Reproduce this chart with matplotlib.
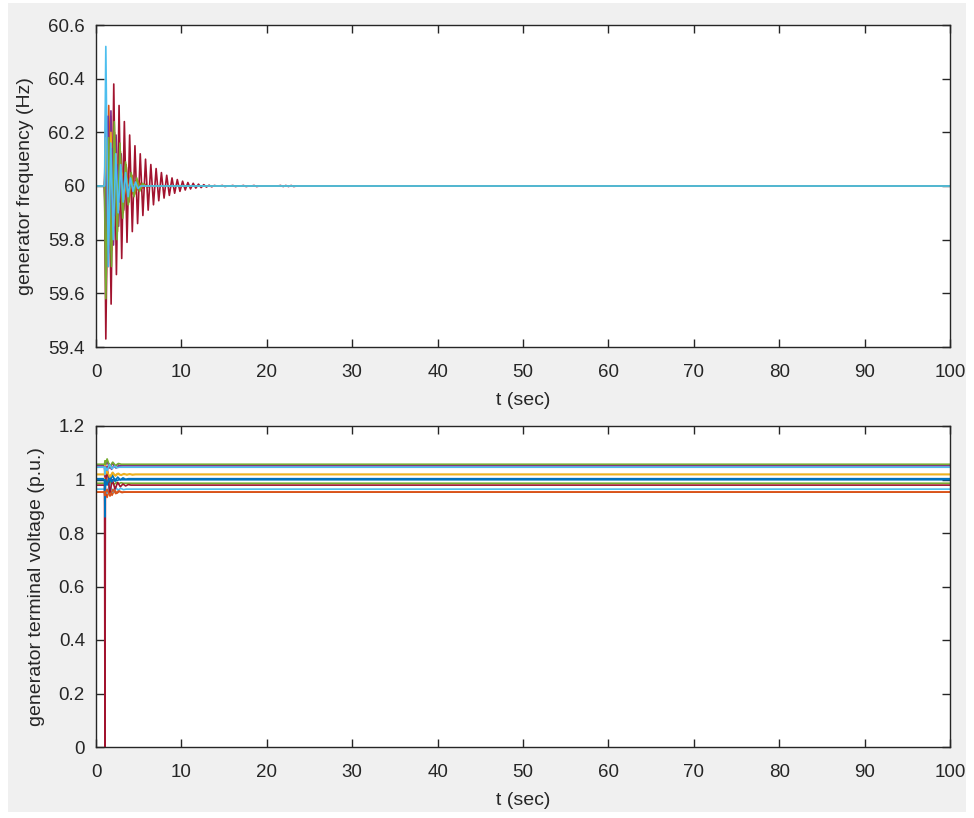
import numpy as np
import matplotlib.pyplot as plt
from matplotlib.patches import Rectangle

plt.rcParams['font.family'] = ['Liberation Sans', 'DejaVu Sans']

# MATLAB default colour order, cycled over the generators
colors = ['#0072BD', '#D95319', '#EDB120', '#7E2F8E', '#77AC30', '#4DBEEE', '#A2142F']

t_end = 100.0
t_fault = 1.0
t_first = 1.15
# time between successive swing extremes for each generator (s)
half_period = [0.31, 0.29, 0.33, 0.30, 0.27, 0.32, 0.31, 0.28, 0.34, 0.30, 0.26, 0.33, 0.29]

# frequency deviation extremes (Hz) for each generator
freq_dev = [
    [0.10, -0.18, 0.14, -0.12, 0.09, -0.07, 0.05, -0.04, 0.03, -0.02, 0.015, -0.01, 0.006, -0.004],
    [0.22, -0.30, 0.26, -0.21, 0.18, -0.14, 0.11, -0.09, 0.07, -0.05, 0.04, -0.03, 0.02, -0.015,
     0.01, -0.008, 0.006, -0.004],
    [-0.15, 0.24, -0.20, 0.16, -0.12, 0.10, -0.07, 0.05, -0.04, 0.03, -0.02, 0.01, -0.008],
    [0.30, -0.25, 0.28, -0.22, 0.19, -0.15, 0.12, -0.09, 0.07, -0.05, 0.04, -0.03, 0.02, -0.012],
    [-0.12, 0.16, -0.14, 0.12, -0.09, 0.08, -0.06, 0.05, -0.03, 0.02, -0.015, 0.01],
    [-0.35, 0.20, -0.22, 0.15, -0.12, 0.09, -0.07, 0.05, -0.04, 0.03, -0.02, 0.01],
    [-0.57, 0.22, -0.44, 0.38, -0.33, 0.30, -0.27, 0.24, -0.21, 0.19, -0.17, 0.15, -0.14, 0.12,
     -0.11, 0.10, -0.09, 0.08, -0.07, 0.065, -0.055, 0.05, -0.045, 0.04, -0.035, 0.03, -0.027,
     0.024, -0.02, 0.018, -0.015, 0.013, -0.011, 0.01, -0.008, 0.007, -0.006, 0.005, -0.004,
     0.003, -0.003, 0.002, 0, 0, 0.002, -0.002, 0, 0, 0.002, -0.002, 0, 0, 0.002, -0.002,
     0, 0, 0.002, -0.002, 0, 0, 0, 0, 0, 0, 0, 0, 0.002, -0.002, 0.002, -0.002, 0.002, -0.002],
    [0.12, -0.20, 0.10, -0.14, 0.08, -0.09, 0.05, -0.05, 0.03, -0.02, 0.01],
    [-0.25, 0.30, -0.24, 0.20, -0.17, 0.13, -0.10, 0.08, -0.06, 0.04, -0.03, 0.02, -0.01, 0.006],
    [0.18, -0.22, 0.20, -0.15, 0.12, -0.09, 0.07, -0.05, 0.03, -0.02, 0.01],
    [-0.20, 0.26, -0.18, 0.14, -0.11, 0.08, -0.06, 0.04, -0.03, 0.02, -0.01],
    [-0.42, 0.18, -0.30, 0.24, -0.20, 0.16, -0.12, 0.09, -0.07, 0.05, -0.04, 0.03, -0.02, 0.01],
    [0.52, -0.30, 0.16, -0.20, 0.12, -0.10, 0.08, -0.06, 0.05, -0.04, 0.03, -0.02, 0.015, -0.01],
]

# terminal voltage set points (p.u.)
volt_level = [1.003, 0.953, 1.019, 1.053, 0.986, 0.964, 0.979,
              0.999, 0.953, 1.019, 1.046, 1.057, 1.046]
# voltage during the fault sample (p.u.)
volt_fault = [0.97, 0.93, 1.00, 1.01, 0.97, 0.95, 0.0,
              0.86, 0.94, 1.06, 1.03, 1.07, 1.02]
# post-fault voltage deviation extremes (p.u.)
volt_dev = [
    [0.03, -0.02, 0.015, -0.01, 0.006, -0.004, 0.003, -0.002],
    [-0.02, 0.015, -0.012, 0.008, -0.004, 0.003, -0.002],
    [0.01, -0.012, 0.008, -0.006, 0.004, -0.003, 0.003, -0.002, 0.002, -0.002],
    [0.015, -0.01, 0.008, -0.005, 0.003, -0.002],
    [0.012, -0.01, 0.008, -0.005, 0.003, -0.002, 0.002],
    [-0.015, 0.02, -0.012, 0.008, -0.004, 0.003, -0.002],
    [0.07, -0.03, 0.02, -0.015, 0.01, -0.006, 0.004, -0.003, 0.002],
    [-0.02, 0.012, -0.008, 0.005, -0.003],
    [0.01, -0.015, 0.01, -0.006, 0.004],
    [0.012, -0.01, 0.006, -0.004, 0.003, -0.002],
    [-0.01, 0.012, -0.008, 0.005, -0.003, 0.002],
    [0.02, -0.01, 0.008, -0.005, 0.003],
    [-0.012, 0.01, -0.006, 0.004, -0.002],
]

fig = plt.figure(figsize=(9.74, 8.18), dpi=100)
fig.patch.set_facecolor('white')
fig.patches.append(Rectangle((8 / 974, 6 / 818), 958 / 974, 809 / 818,
                             transform=fig.transFigure, facecolor='#f0f0f0',
                             edgecolor='none', zorder=-10))

ax1 = fig.add_axes([96 / 974, 1 - 347 / 818, 854 / 974, 322 / 818])
ax2 = fig.add_axes([96 / 974, 1 - 747 / 818, 854 / 974, 321 / 818])

for i, dev in enumerate(freq_dev):
    hp = half_period[i]
    t_ext = t_first + hp * np.arange(len(dev))
    t = np.concatenate([[0.0, t_fault], t_ext, [t_ext[-1] + hp, t_end]])
    f = 60.0 + np.concatenate([[0.0, 0.0], dev, [0.0, 0.0]])
    ax1.plot(t, f, color=colors[i % len(colors)], lw=1.2)

for i, dev in enumerate(volt_dev):
    hp = half_period[i]
    t_ext = t_first + 0.15 + hp * np.arange(len(dev))
    t = np.concatenate([[0.0, t_fault, t_fault + 0.05, t_fault + 0.1], t_ext,
                        [t_ext[-1] + hp, t_end]])
    lvl = volt_level[i]
    v = np.concatenate([[lvl, lvl, volt_fault[i], lvl], lvl + np.array(dev), [lvl, lvl]])
    ax2.plot(t, v, color=colors[i % len(colors)], lw=1.2)

ax1.set_ylim(59.4, 60.6)
ax1.set_yticks([59.4, 59.6, 59.8, 60, 60.2, 60.4, 60.6])
ax1.set_yticklabels(['59.4', '59.6', '59.8', '60', '60.2', '60.4', '60.6'])
ax1.set_ylabel('generator frequency (Hz)', labelpad=10)

ax2.set_ylim(0, 1.2)
ax2.set_yticks([0, 0.2, 0.4, 0.6, 0.8, 1, 1.2])
ax2.set_yticklabels(['0', '0.2', '0.4', '0.6', '0.8', '1', '1.2'])
ax2.set_ylabel('generator terminal voltage (p.u.)', labelpad=10)

for ax in (ax1, ax2):
    ax.set_xlim(0, 100)
    ax.set_xticks(np.arange(0, 101, 10))
    ax.set_xlabel('t (sec)', fontsize=14, color='#262626', labelpad=8)
    ax.yaxis.label.set_fontsize(14)
    ax.yaxis.label.set_color('#262626')
    ax.tick_params(axis='x', pad=12)
    ax.tick_params(direction='in', length=6, width=1, top=True, right=True,
                   labelsize=13.5, colors='#262626')
    ax.tick_params(axis='y', pad=8)
    for s in ax.spines.values():
        s.set_color('#262626')
        s.set_linewidth(1.0)

fig.savefig('out.png', dpi=100)
